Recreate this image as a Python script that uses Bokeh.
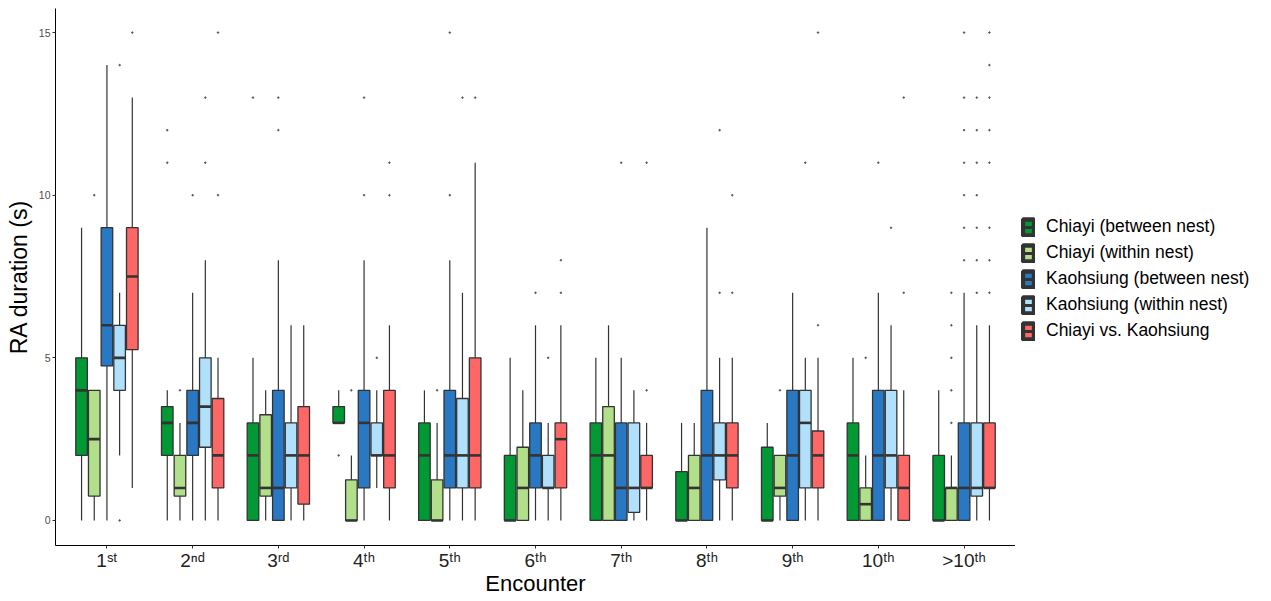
import numpy as np
from bokeh.plotting import figure
from bokeh.layouts import row
from bokeh.models import FixedTicker, Legend, LegendItem, Range1d, ColumnDataSource
from bokeh.embed import file_html
from bokeh.resources import INLINE

# ---------------- data ----------------
tick_labels = ["1ˢᵗ", "2ⁿᵈ", "3ʳᵈ", "4ᵗʰ", "5ᵗʰ", "6ᵗʰ", "7ᵗʰ", "8ᵗʰ", "9ᵗʰ", "10ᵗʰ", ">10ᵗʰ"]

series = ["Chiayi (between nest)", "Chiayi (within nest)", "Kaohsiung (between nest)",
          "Kaohsiung (within nest)", "Chiayi vs. Kaohsiung"]
colors = ["#009933", "#b2df8a", "#2878c3", "#b0e0fc", "#ff6666"]

# Chiayi (between nest)
cb_lo  = [0, 0, 0, 3, 0, 0, 0, 0, 0, 0, 0]
cb_q1  = [2, 2, 0, 3, 0, 0, 0, 0, 0, 0, 0]
cb_med = [4, 3, 2, 3, 2, 0, 2, 0, 0, 2, 0]
cb_q3  = [5, 3.5, 3, 3.5, 3, 2, 3, 1.5, 2.25, 3, 2]
cb_hi  = [9, 4, 5, 4, 4, 5, 5, 3, 3, 5, 4]
cb_out = [[], [11, 12], [13], [2], [], [], [], [], [], [], []]

# Chiayi (within nest)
cw_lo  = [0, 0, 0, 0, 0, 0, 0, 0, 0, 0, 0]
cw_q1  = [0.75, 0.75, 0.75, 0, 0, 0, 0, 0, 0.75, 0, 0]
cw_med = [2.5, 1, 1, 0, 0, 1, 2, 1, 1, 0.5, 1]
cw_q3  = [4, 2, 3.25, 1.25, 1.25, 2.25, 3.5, 2, 2, 1, 1]
cw_hi  = [4, 3, 4, 2, 3, 4, 6, 3, 2, 2, 2]
cw_out = [[10], [4], [], [4], [4], [], [], [], [4], [5], [3, 4, 5, 6, 7]]

# Kaohsiung (between nest)
kb_lo  = [0, 0, 0, 0, 0, 0, 0, 0, 0, 0, 0]
kb_q1  = [4.75, 2, 0, 1, 1, 1, 0, 0, 0, 0, 0]
kb_med = [6, 3, 1, 3, 2, 2, 1, 2, 2, 2, 1]
kb_q3  = [9, 4, 4, 4, 4, 3, 3, 4, 4, 4, 3]
kb_hi  = [14, 7, 8, 8, 8, 6, 5, 9, 7, 7, 7]
kb_out = [[], [10], [12, 13], [10, 13], [10, 15], [7], [11], [], [], [11],
          [8, 9, 10, 11, 12, 13, 15]]

# Kaohsiung (within nest)
kw_lo  = [2, 0, 0, 1, 0, 0, 0, 0, 0, 0, 0]
kw_q1  = [4, 2.25, 1, 2, 1, 1, 0.25, 1.25, 1, 1, 0.75]
kw_med = [5, 3.5, 2, 2, 2, 1, 1, 2, 3, 2, 1]
kw_q3  = [6, 5, 3, 3, 3.75, 2, 3, 3, 4, 4, 3]
kw_hi  = [7, 8, 6, 4, 7, 3, 4, 5, 5, 6, 6]
kw_out = [[0, 14], [11, 13], [], [5], [13], [5], [], [7, 12], [11], [9],
          [7, 8, 9, 10, 11, 12, 13]]

# Chiayi vs. Kaohsiung
ck_lo  = [1, 0, 0, 0, 0, 0, 0, 0, 0, 0, 0]
ck_q1  = [5.25, 1, 0.5, 1, 1, 1, 1, 1, 1, 0, 1]
ck_med = [7.5, 2, 2, 2, 2, 2.5, 1, 2, 2, 1, 1]
ck_q3  = [9, 3.75, 3.5, 4, 5, 3, 2, 3, 2.75, 2, 3]
ck_hi  = [13, 5, 6, 6, 11, 6, 3, 5, 5, 4, 6]
ck_out = [[15], [10, 15], [], [10, 11], [13], [7, 8], [4, 11], [7, 10], [6, 15], [7, 13],
          [7, 8, 9, 11, 12, 13, 14, 15]]

stats = [
    (cb_lo, cb_q1, cb_med, cb_q3, cb_hi, cb_out),
    (cw_lo, cw_q1, cw_med, cw_q3, cw_hi, cw_out),
    (kb_lo, kb_q1, kb_med, kb_q3, kb_hi, kb_out),
    (kw_lo, kw_q1, kw_med, kw_q3, kw_hi, kw_out),
    (ck_lo, ck_q1, ck_med, ck_q3, ck_hi, ck_out),
]

# ---------------- main figure ----------------
FONT = "Liberation Sans"
p = figure(frame_width=960, frame_height=537, output_backend="svg", toolbar_location=None,
           x_range=Range1d(0.4, 11.6), y_range=Range1d(-0.77, 15.74),
           min_border_left=55, min_border_right=0, min_border_top=8, min_border_bottom=40)
p.outline_line_color = None
p.xgrid.visible = False
p.ygrid.visible = False
p.background_fill_color = "white"

step = 0.148
bw = 0.135
for j, (lo, q1, med, q3, hi, out) in enumerate(stats):
    xs = [i + 1 + (j - 2) * step for i in range(len(tick_labels))]
    src = ColumnDataSource(dict(x=xs, lo=lo, q1=q1, med=med, q3=q3, hi=hi,
                                xl=[x - bw / 2 for x in xs], xr=[x + bw / 2 for x in xs]))
    p.segment(x0="x", x1="x", y0="lo", y1="hi", source=src, line_color="#333333", line_width=1.2)
    p.vbar(x="x", width=bw, bottom="q1", top="q3", source=src, fill_color=colors[j],
           line_color="#333333", line_width=1.3)
    p.segment(x0="xl", x1="xr", y0="med", y1="med", source=src, line_color="#333333", line_width=2.6)
    ox, oy = [], []
    for i, vals in enumerate(out):
        for v in vals:
            ox.append(xs[i]); oy.append(v)
    p.scatter(ox, oy, size=1.5, color="#555555")

# axes
p.yaxis.ticker = FixedTicker(ticks=[0, 5, 10, 15])
p.yaxis.axis_line_color = "black"
p.yaxis.major_tick_line_color = "#333333"
p.yaxis.major_tick_out = 3
p.yaxis.major_tick_in = 0
p.yaxis.minor_tick_line_color = None
p.yaxis.major_label_text_font_size = "10.5px"
p.yaxis.major_label_text_color = "#4d4d4d"
p.yaxis.major_label_text_font = FONT
p.yaxis.major_label_standoff = 2
p.yaxis.axis_label = "RA duration (s)"
p.yaxis.axis_label_text_font = FONT
p.yaxis.axis_label_text_font_size = "23px"
p.yaxis.axis_label_text_font_style = "normal"
p.yaxis.axis_label_text_color = "black"
p.yaxis.axis_label_standoff = 4

p.xaxis.ticker = FixedTicker(ticks=list(range(1, len(tick_labels) + 1)))
p.xaxis.major_label_overrides = {i + 1: t for i, t in enumerate(tick_labels)}
p.xaxis.major_label_text_font = FONT
p.xaxis.major_label_text_font_size = "19px"
p.xaxis.major_label_text_color = "#222222"
p.xaxis.major_label_standoff = 1
p.xaxis.axis_line_color = "black"
p.xaxis.major_tick_line_color = "#333333"
p.xaxis.major_tick_out = 3
p.xaxis.major_tick_in = 0
p.xaxis.minor_tick_line_color = None
p.xaxis.axis_label = "Encounter"
p.xaxis.axis_label_text_font = FONT
p.xaxis.axis_label_text_font_size = "22px"
p.xaxis.axis_label_text_font_style = "normal"
p.xaxis.axis_label_text_color = "black"
p.xaxis.axis_label_standoff = -3

# ---------------- legend panel ----------------
LH = 593
q = figure(width=240, height=LH, output_backend="svg", toolbar_location=None,
           x_range=Range1d(0, 1), y_range=Range1d(0, 1),
           min_border_left=0, min_border_right=0, min_border_top=0, min_border_bottom=0)
q.axis.visible = False
q.xgrid.visible = False
q.ygrid.visible = False
q.outline_line_color = None

items = []
for name, col in zip(series, colors):
    r1 = q.rect(x=[np.nan], y=[np.nan], width=1, height=1, fill_color=col,
                line_color="#333333", line_width=4.5)
    r2 = q.line(x=[np.nan, np.nan], y=[np.nan, np.nan], line_color="#333333", line_width=3)
    items.append(LegendItem(label=name, renderers=[r1, r2]))
legend = Legend(items=items, location=(6, 199), border_line_color=None,
                background_fill_alpha=0, padding=0, margin=0, spacing=5,
                glyph_width=14, glyph_height=20, label_height=20, label_standoff=11,
                label_text_font=FONT, label_text_font_size="17.5px", label_text_color="black")
q.add_layout(legend, "center")

layout = row(p, q)
open("out.html", "w").write(file_html(layout, INLINE))
